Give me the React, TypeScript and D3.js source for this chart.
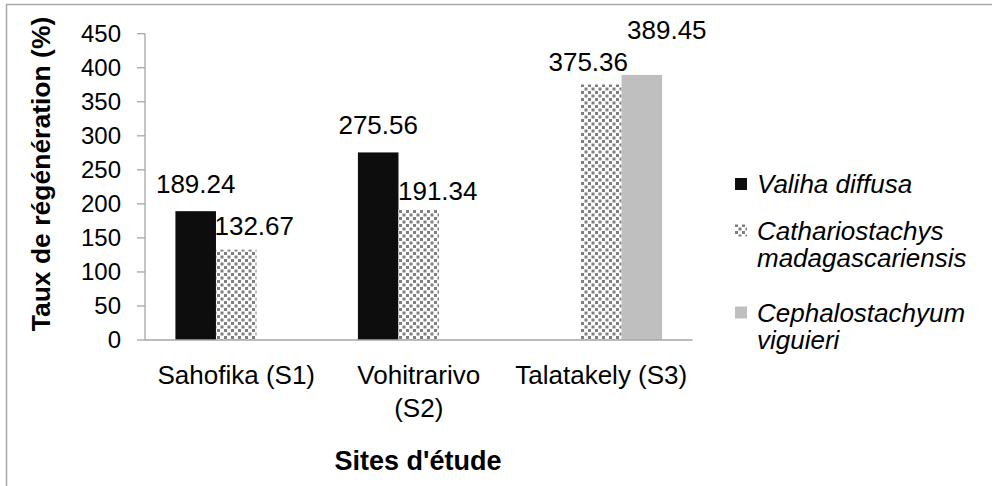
import React from "react";
import * as d3 from "d3";

const categories = ["Sahofika (S1)", "Vohitrarivo\n(S2)", "Talatakely (S3)"];
const seriesNames = ["Valiha diffusa", "Cathariostachys\nmadagascariensis", "Cephalostachyum\nviguieri"];
const valihaValues = [189.24, 275.56, 0];
const cathaValues = [132.67, 191.34, 375.36];
const cephaloValues = [0, 0, 389.45];
const yTicks = [0, 50, 100, 150, 200, 250, 300, 350, 400, 450];

// label nudges (px) as in original: [dx, dy] per series per category
const labelNudge = [
  [[0, 0], [0, 0], [0, 0]],
  [[18, 3], [19, 8], [-13, 4]],
  [[0, 0], [0, 0], [25, -18]],
];

const W = 992, H = 486;
const plot = { left: 145, right: 692.5, top: 33.7, bottom: 340 };
const FONT = "Liberation Sans, Arial, sans-serif";

export default function App() {
  const series = [valihaValues, cathaValues, cephaloValues];
  const x0 = d3.scaleBand<number>().domain([0, 1, 2]).range([plot.left, plot.right]).paddingInner(0).paddingOuter(0);
  const bw = x0.bandwidth();
  const barW = bw / 4.5;
  const groupOff = (bw - barW * 3) / 2;
  const y = d3.scaleLinear().domain([0, 450]).range([plot.bottom, plot.top]);
  const fills = ["#0d0d0d", "url(#confetti)", "#bfbfbf"];
  const axisColor = "#a6a6a6";

  return (
    <svg width={W} height={H} style={{ position: "absolute", left: 0, top: 0, background: "#fff" }} fontFamily={FONT}>
      <defs>
        <pattern id="confetti" patternUnits="userSpaceOnUse" width="7" height="7">
          <rect width="7" height="7" fill="#fff" />
          <rect x="0" y="0" width="3" height="3" fill="#7f7f7f" />
          <rect x="3.5" y="3.5" width="3" height="3" fill="#7f7f7f" />
        </pattern>
      </defs>
      <rect x={6.5} y={4.5} width={W + 10} height={H + 10} fill="none" stroke={axisColor} strokeWidth={1.5} />

      {/* y axis */}
      <line x1={plot.left} x2={plot.left} y1={plot.top} y2={plot.bottom} stroke={axisColor} strokeWidth={1.3} />
      {yTicks.map((t) => (
        <g key={t}>
          <line x1={plot.left - 8} x2={plot.left} y1={y(t)} y2={y(t)} stroke={axisColor} strokeWidth={1.3} />
          <text x={121} y={y(t)} dy="0.35em" textAnchor="end" fontSize={24} fill="#000">{t}</text>
        </g>
      ))}

      {/* bars */}
      {series.map((vals, si) =>
        vals.map((v, ci) =>
          v > 0 ? (
            <g key={`${si}-${ci}`}>
              <rect x={x0(ci)! + groupOff + si * barW} y={y(v)} width={barW} height={plot.bottom - y(v)} fill={fills[si]} />
              <text
                x={x0(ci)! + groupOff + si * barW + barW / 2 + labelNudge[si][ci][0]}
                y={y(v) - 18 + labelNudge[si][ci][1]}
                textAnchor="middle" fontSize={26} fill="#000">
                {v.toFixed(2)}
              </text>
            </g>
          ) : null
        )
      )}

      {/* x axis */}
      <line x1={plot.left} x2={plot.right} y1={plot.bottom} y2={plot.bottom} stroke={axisColor} strokeWidth={1.5} />
      {categories.map((c, ci) => (
        <text key={c} x={x0(ci)! + bw / 2} y={384} textAnchor="middle" fontSize={26} fill="#000">
          {c.split("\n").map((line, li) => (
            <tspan key={li} x={x0(ci)! + bw / 2} dy={li === 0 ? 0 : 33}>{line}</tspan>
          ))}
        </text>
      ))}

      {/* axis titles */}
      <text x={418} y={470} textAnchor="middle" fontSize={27} fontWeight="bold" fill="#000">Sites d'étude</text>
      <text transform={`translate(50,174) rotate(-90)`} textAnchor="middle" fontSize={26.5} fontWeight="bold" fill="#000">Taux de régénération (%)</text>

      {/* legend */}
      {seriesNames.map((name, si) => {
        const ys = [184, 230.5, 312.5][si];
        return (
          <g key={si}>
            <rect x={735} y={ys - 6} width={12} height={12} fill={fills[si]} />
            {name.split("\n").map((line, li) => (
              <text key={li} x={757} y={ys + li * 27.5} dy="0.35em" fontSize={26} fontStyle="italic" fill="#000">{line}</text>
            ))}
          </g>
        );
      })}
    </svg>
  );
}
